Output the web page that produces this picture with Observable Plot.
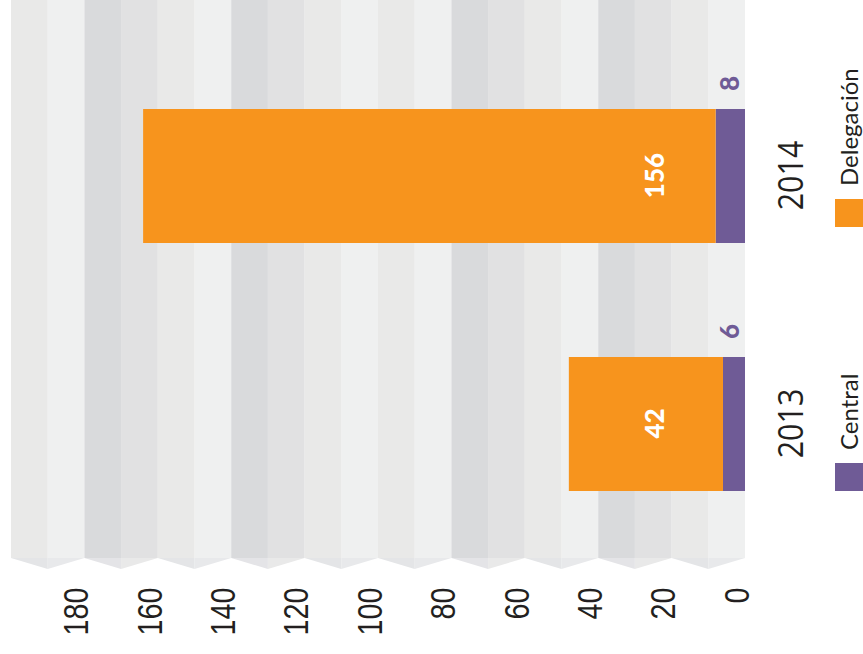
<!DOCTYPE html>
<html><head><meta charset="utf-8">
<script src="https://cdn.jsdelivr.net/npm/d3@7"></script>
<script src="https://cdn.jsdelivr.net/npm/@observablehq/plot@0.6"></script>
<style>
html,body{margin:0;padding:0;background:#fff;overflow:hidden;width:863px;height:654px}
#rot{position:absolute;left:0;top:0;width:654px;height:863px;transform-origin:0 0;transform:translateY(654px) rotate(-90deg);}
#chart svg{display:block}
#leg{position:absolute;left:163px;top:835px;}
#leg > div{font-family:Lato,sans-serif !important;font-size:24px !important;color:#231f20 !important;margin:0 !important;min-height:28px !important;display:flex !important;align-items:center !important;flex-wrap:nowrap !important;}
#leg span{width:264px !important;margin-right:0 !important;display:inline-flex !important;align-items:center !important;line-height:1 !important;}
#leg span > svg{margin-right:13px !important;}
</style></head>
<body><div id="rot"><div id="chart"></div><div id="leg"></div></div>
<script>
// ---- data ----
const years = ["2013", "2014"];
const series = ["Central", "Delegación"];
const central = [6, 8];
const delegacion = [42, 156];
const seriesColors = ["#6F5B96", "#F7941D"];
const yTicks = [0, 20, 40, 60, 80, 100, 120, 140, 160, 180];
// background bands (value ranges of 10)
const bandStarts = [0, 10, 20, 30, 40, 50, 60, 70, 80, 90, 100, 110, 120, 130, 140, 150, 160, 170, 180, 190];
const bandTones = ["a","b","c","d","a","b","c","d","a","b","a","b","c","d","a","b","c","d","a","b"];
const toneFill = {a: "#eff0f0", b: "#e9e9e8", c: "#e1e1e2", d: "#d9dadc"};
const toneFold = {a: "#e8e9eb", b: "#e4e5e7", c: "#e9e9e9", d: "#e4e4e7"};

const rows = [];
years.forEach((y, i) => {
  rows.push({year: y, series: series[0], value: central[i]});
  rows.push({year: y, series: series[1], value: delegacion[i]});
});
const bands = bandStarts.map((s, i) => ({lo: s, hi: s + 10, tone: bandTones[i]}));

const tickFont = "'Liberation Sans', Arial, sans-serif";
const yearFont = "'Open Sans', sans-serif";

const bandMarks = Object.keys(toneFill).map(t =>
  Plot.rectY(bands.filter(d => d.tone === t), {y1: "lo", y2: "hi", fill: toneFill[t]})
);

// folded-paper edge below the bands (left side of the unrotated frame)
const fold = (index, scales, values, dimensions) => {
  const g = d3.create("svg:g");
  const x0 = dimensions.marginLeft;
  const depth = 11;
  bands.forEach(b => {
    const odd = (b.lo / 10) % 2 === 1 ? b.lo : b.hi;
    const pts = [[x0, scales.y(b.lo)], [x0, scales.y(b.hi)], [x0 - depth, scales.y(odd)]];
    g.append("path").attr("d", "M" + pts.map(p => p.join(",")).join("L") + "Z").attr("fill", toneFold[b.tone]);
  });
  return g.node();
};

const chart = Plot.plot({
  width: 654,
  height: 863,
  marginTop: 11,
  marginBottom: 118,
  marginLeft: 96,
  marginRight: 0,
  style: {background: "transparent", overflow: "visible"},
  x: {domain: years, paddingInner: 0.46, paddingOuter: 0.355, align: 0.38},
  y: {domain: [0, 200]},
  color: {domain: series, range: seriesColors},
  marks: [
    ...bandMarks,
    fold,
    Plot.barY(rows, {x: "year", y: "value", fill: "series", inset: 0}),
    Plot.text(rows.filter(d => d.series === series[1]), {
      x: "year", y: () => 0, text: d => String(d.value), dy: -90,
      fill: "#ffffff", fontSize: 26, fontWeight: 900, fontFamily: "Lato, sans-serif"
    }),
    Plot.text(rows.filter(d => d.series === series[0]), {
      x: "year", y: () => 0, text: d => String(d.value), dx: 92, dy: -15,
      fill: seriesColors[0], fontSize: 26, fontWeight: 900, fontFamily: "Lato, sans-serif"
    }),
    Plot.axisY(yTicks, {tickSize: 0, tickPadding: 30, fontSize: 35, fontFamily: tickFont, fill: "#231f20", dy: -8, label: null}),
    Plot.axisX({tickSize: 0, tickPadding: 33, fontSize: 35, fontFamily: yearFont, fill: "#231f20", label: null})
  ]
});
document.getElementById("chart").appendChild(chart);

// condense the tick label glyphs along the text direction
function condense(sel, k) {
  d3.select(chart).selectAll(sel).each(function () {
    try {
      const L = this.getComputedTextLength();
      if (L > 0) {
        this.setAttribute("textLength", (L * k).toFixed(2));
        this.setAttribute("lengthAdjust", "spacingAndGlyphs");
      }
    } catch (e) {}
  });
}
condense('g[aria-label="y-axis tick label"] text', 0.82);
condense('g[aria-label="x-axis tick label"] text', 0.87);

const legend = Plot.legend({
  color: {domain: series, range: seriesColors},
  legend: "swatches",
  swatchSize: 28
});
document.getElementById("leg").appendChild(legend);
</script>
</body></html>
